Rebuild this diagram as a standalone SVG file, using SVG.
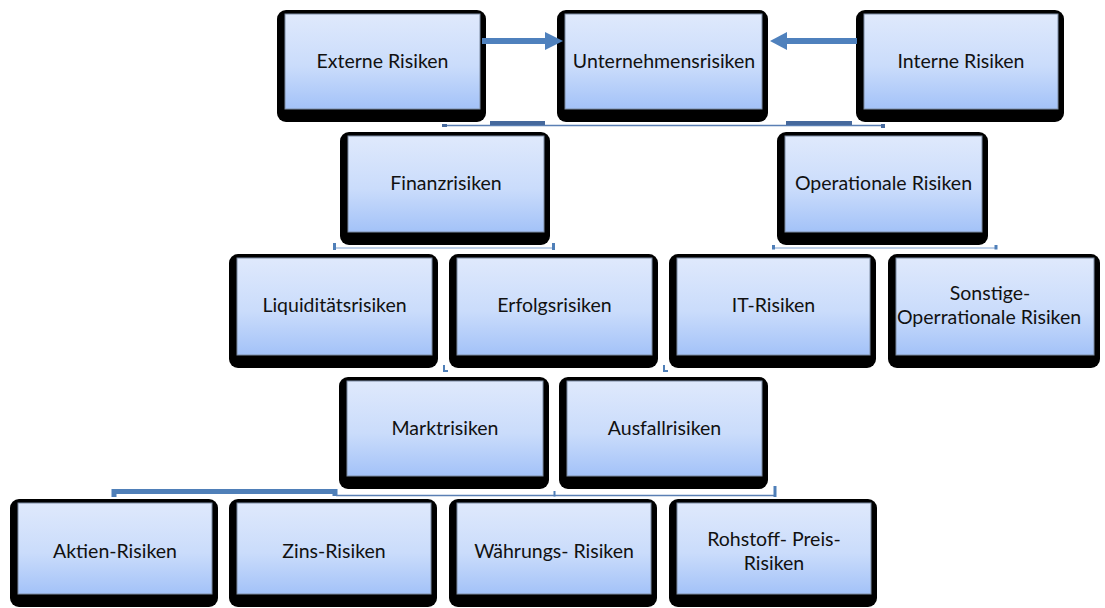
<svg xmlns="http://www.w3.org/2000/svg" width="1105" height="608" viewBox="0 0 1105 608">
  <defs>
    <linearGradient id="faceFill" x1="0" y1="0" x2="0" y2="1">
      <stop offset="0" stop-color="#dfe9fc"/>
      <stop offset="0.55" stop-color="#cadcfb"/>
      <stop offset="1" stop-color="#a3c2f8"/>
    </linearGradient>
    <style>
      .frame { fill: #000000; }
      .face { fill: url(#faceFill); stroke: #7d8ca4; stroke-width: 1; }
      .label { font-family: Lato, "Liberation Sans", sans-serif; font-size: 19.5px; fill: #111111; text-anchor: middle; }
      .arrow { stroke: #4f81bd; stroke-width: 6; fill: none; }
      .head { fill: #4f81bd; }
      .thin { stroke: #5a7fb4; stroke-width: 1.5; fill: none; }
      .pale { stroke: #a9c0e0; stroke-width: 1.5; fill: none; }
      .tick { stroke: #4f7fb8; stroke-width: 3; fill: none; }
      .bar { fill: #46699d; }
    </style>
  </defs>

  <!-- Row 1 -->
  <g id="externe">
    <rect class="frame" x="277" y="10" width="209" height="112" rx="9"/>
    <rect class="face" x="285" y="14" width="195" height="95"/>
    <text class="label" x="382.5" y="68">Externe Risiken</text>
  </g>
  <g id="unternehmen">
    <rect class="frame" x="557" y="10" width="211" height="112" rx="9"/>
    <rect class="face" x="565" y="14" width="197" height="95"/>
    <text class="label" x="664" y="68">Unternehmensrisiken</text>
  </g>
  <g id="interne">
    <rect class="frame" x="856" y="10" width="208" height="112" rx="9"/>
    <rect class="face" x="864" y="14" width="194" height="95"/>
    <text class="label" x="961" y="68">Interne Risiken</text>
  </g>

  <!-- Row 2 -->
  <g id="finanz">
    <rect class="frame" x="340" y="132" width="210" height="113" rx="9"/>
    <rect class="face" x="348" y="136" width="196" height="96"/>
    <text class="label" x="446" y="190">Finanzrisiken</text>
  </g>
  <g id="operational">
    <rect class="frame" x="777" y="132" width="211" height="113" rx="9"/>
    <rect class="face" x="785" y="136" width="197" height="96"/>
    <text class="label" x="883.5" y="190">Operationale Risiken</text>
  </g>

  <!-- Row 3 -->
  <g id="liquiditaet">
    <rect class="frame" x="229" y="254" width="209" height="114" rx="9"/>
    <rect class="face" x="237" y="258" width="195" height="97"/>
    <text class="label" x="334.5" y="312">Liquiditätsrisiken</text>
  </g>
  <g id="erfolg">
    <rect class="frame" x="449" y="254" width="209" height="114" rx="9"/>
    <rect class="face" x="457" y="258" width="195" height="97"/>
    <text class="label" x="554.5" y="312">Erfolgsrisiken</text>
  </g>
  <g id="it">
    <rect class="frame" x="669" y="254" width="207" height="114" rx="9"/>
    <rect class="face" x="677" y="258" width="193" height="97"/>
    <text class="label" x="773.5" y="312">IT-Risiken</text>
  </g>
  <g id="sonstige">
    <rect class="frame" x="888" y="254" width="212" height="114" rx="9"/>
    <rect class="face" x="896" y="258" width="198" height="97"/>
    <text class="label" x="990" y="300">Sonstige-</text>
    <text class="label" x="989" y="324">Operrationale Risiken</text>
  </g>

  <!-- Row 4 -->
  <g id="markt">
    <rect class="frame" x="339" y="377" width="210" height="112" rx="9"/>
    <rect class="face" x="347" y="381" width="196" height="95"/>
    <text class="label" x="445" y="435">Marktrisiken</text>
  </g>
  <g id="ausfall">
    <rect class="frame" x="559" y="377" width="209" height="112" rx="9"/>
    <rect class="face" x="567" y="381" width="195" height="95"/>
    <text class="label" x="664.5" y="435">Ausfallrisiken</text>
  </g>

  <!-- Row 5 -->
  <g id="aktien">
    <rect class="frame" x="10" y="499" width="208" height="108" rx="9"/>
    <rect class="face" x="18" y="503" width="194" height="91"/>
    <text class="label" x="115" y="558">Aktien-Risiken</text>
  </g>
  <g id="zins">
    <rect class="frame" x="229" y="499" width="208" height="108" rx="9"/>
    <rect class="face" x="237" y="503" width="194" height="91"/>
    <text class="label" x="334" y="558">Zins-Risiken</text>
  </g>
  <g id="waehrung">
    <rect class="frame" x="449" y="499" width="208" height="108" rx="9"/>
    <rect class="face" x="457" y="503" width="194" height="91"/>
    <text class="label" x="554" y="558">Währungs- Risiken</text>
  </g>
  <g id="rohstoff">
    <rect class="frame" x="669" y="499" width="208" height="108" rx="9"/>
    <rect class="face" x="677" y="503" width="194" height="91"/>
    <text class="label" x="774" y="546">Rohstoff- Preis-</text>
    <text class="label" x="774" y="570">Risiken</text>
  </g>

  <!-- Connectors -->
  <g id="connectors">
    <!-- arrows into the company-risk box -->
    <line class="arrow" x1="482" y1="41" x2="546" y2="41"/>
    <polygon class="head" points="545,32 563,41 545,50"/>
    <line class="arrow" x1="857" y1="41" x2="786" y2="41"/>
    <polygon class="head" points="787,32 770,41 787,50"/>

    <!-- bracket under row 1 -->
    <path class="thin" d="M445,125.5 H884"/>
    <rect class="bar" x="442" y="124" width="5" height="3"/>
    <rect class="bar" x="881" y="124" width="4" height="4"/>
    <rect class="bar" x="490" y="121" width="55" height="4"/>
    <rect class="bar" x="786" y="121" width="66" height="4"/>

    <!-- bracket under Finanzrisiken -->
    <path class="pale" d="M334,248 H554"/>
    <path class="tick" d="M334.5,243 V250"/>
    <path class="tick" d="M553.5,243 V250"/>

    <!-- bracket under Operationale Risiken -->
    <path class="pale" d="M773,248 H997"/>
    <path class="tick" d="M773.5,245 V249.5"/>
    <path class="tick" d="M996,245 V249.5"/>

    <!-- stubs under row 3 -->
    <path class="tick" d="M444,365 V371 H448" style="stroke-width:2"/>
    <path class="tick" d="M664,365 V371 H668" style="stroke-width:2"/>

    <!-- bracket under row 4 -->
    <path class="tick" d="M114,497 V491.5 H335 V496" style="stroke-width:5"/>
    <path class="thin" d="M336,495.5 H775"/>
    <path class="tick" d="M554.5,491 V496.5" style="stroke-width:2"/>
    <path class="tick" d="M775,486 V497"/>
  </g>
</svg>
